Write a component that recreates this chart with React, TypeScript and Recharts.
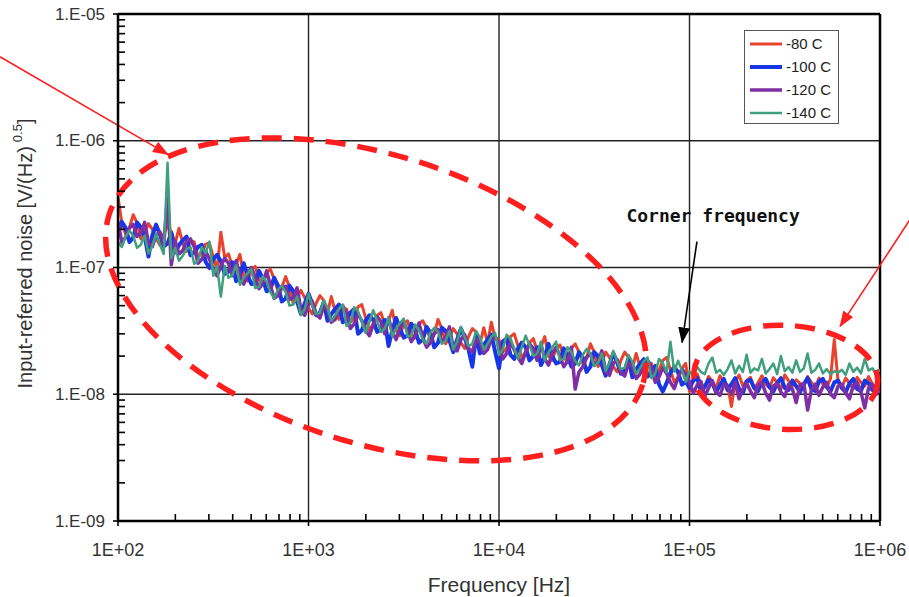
import React from "react";
import {
  LineChart,
  Line,
  XAxis,
  YAxis,
  ReferenceLine,
  ReferenceDot,
  Legend,
  Label,
} from "recharts";

// frequency grid [Hz], 50 points per decade
const freq = [
  100, 104.7, 109.6, 114.8, 120.2, 125.9, 131.8, 138, 144.5, 151.4, 158.5, 166, 173.8, 182, 190.5, 199.5, 208.9, 218.8, 229.1, 239.9,
  251.2, 263, 275.4, 288.4, 302, 316.2, 331.1, 346.7, 363.1, 380.2, 398.1, 416.9, 436.5, 457.1, 478.6, 501.2, 524.8, 549.5, 575.4, 602.6,
  631, 660.7, 691.8, 724.4, 758.6, 794.3, 831.8, 871, 912, 955,
  1000, 1047, 1096, 1148, 1202, 1259, 1318, 1380, 1445, 1514, 1585, 1660, 1738, 1820, 1905, 1995, 2089, 2188, 2291, 2399,
  2512, 2630, 2754, 2884, 3020, 3162, 3311, 3467, 3631, 3802, 3981, 4169, 4365, 4571, 4786, 5012, 5248, 5495, 5754, 6026,
  6310, 6607, 6918, 7244, 7586, 7943, 8318, 8710, 9120, 9550,
  10000, 10470, 10960, 11480, 12020, 12590, 13180, 13800, 14450, 15140, 15850, 16600, 17380, 18200, 19050, 19950, 20890, 21880, 22910, 23990,
  25120, 26300, 27540, 28840, 30200, 31620, 33110, 34670, 36310, 38020, 39810, 41690, 43650, 45710, 47860, 50120, 52480, 54950, 57540, 60260,
  63100, 66070, 69180, 72440, 75860, 79430, 83180, 87100, 91200, 95500,
  100000, 104700, 109600, 114800, 120200, 125900, 131800, 138000, 144500, 151400, 158500, 166000, 173800, 182000, 190500, 199500, 208900, 218800, 229100, 239900,
  251200, 263000, 275400, 288400, 302000, 316200, 331100, 346700, 363100, 380200, 398100, 416900, 436500, 457100, 478600, 501200, 524800, 549500, 575400, 602600,
  631000, 660700, 691800, 724400, 758600, 794300, 831800, 871000, 912000, 955000,
  1000000,
];

// noise values in nV/sqrt(Hz)
const minus80 = [
  360, 226, 184, 206, 261, 224, 168, 187, 222, 200,
  170, 150, 184, 212, 193, 154, 204, 155, 134, 163,
  159, 122, 129, 153, 156, 121, 96, 190, 120, 128,
  102, 106, 127, 85, 78, 96, 102, 80, 74, 91,
  97, 81, 65, 70, 85, 70, 52, 57, 66, 58,
  48, 43, 52, 60, 55, 44, 59, 45, 39, 48,
  47, 37, 40, 49, 51, 40, 32, 36, 42, 44,
  36, 38, 46, 32, 29, 36, 38, 30, 28, 36,
  38, 33, 27, 30, 39, 33, 25, 28, 33, 30,
  25.5, 23, 28.5, 33, 31, 25, 33.5, 25.5, 37, 27.5,
  27, 21.5, 23, 28.5, 30, 24, 19.5, 21.5, 25.5, 27.5,
  22, 23.5, 28.5, 20, 18.5, 23, 24.5, 19.5, 18, 23,
  25, 21.5, 17.5, 19.5, 25, 21.5, 16.5, 18, 21.5, 19.5,
  16.5, 15, 18.5, 21.5, 19.5, 16, 21, 16.5, 14.5, 18,
  17.5, 14, 15.5, 18.5, 19.5, 15.5, 12.5, 13.5, 16, 17.5,
  10.5, 13.5, 14.5, 12, 11.5, 13.8, 12.6, 11.2, 14, 12.5,
  11.8, 8, 12.5, 14.2, 11.6, 12.8, 13.6, 11, 12.4, 14,
  12, 11.2, 13.5, 12.4, 11, 14.2, 12.8, 11.6, 13, 12.2,
  11.5, 13.8, 12.4, 11.2, 13.4, 12, 11.4, 13.2, 27, 12.6,
  11.4, 13.4, 12.2, 11, 13.6, 12.4, 11.6, 13.8, 12, 11.2,
  12.5,
];

const minus100 = [
  186, 229, 206, 159, 172, 227, 208, 177, 122, 179,
  218, 182, 147, 155, 187, 132, 150, 164, 175, 125,
  132, 145, 151, 111, 99, 116, 126, 112, 89, 93,
  110, 78, 87, 108, 87, 74, 75, 94, 82, 65,
  68, 83, 72, 54, 57, 72, 65, 54, 43, 52,
  62, 52, 42, 44, 53, 38, 43, 47, 51, 37,
  39.5, 44, 47, 30, 32, 38, 42, 38.5, 31, 32.5,
  38.5, 24, 32, 40, 33, 28, 29, 36, 32, 25.5,
  27, 34, 30.5, 23.5, 25.5, 33.5, 31.5, 26.5, 21.5, 27,
  33, 28, 22.5, 16.5, 29.5, 21, 24.5, 27, 29.5, 21.5,
  16, 26, 27.5, 20.5, 19, 23, 25.5, 23.5, 18.5, 20,
  23.5, 17, 19.5, 25, 20, 17.5, 18, 23, 20, 16.5,
  17.5, 21.5, 19.5, 15, 16.5, 21.5, 20, 17, 14, 17.3,
  21, 18, 14.5, 15.5, 19, 13.6, 15.7, 17.4, 18.9, 13.8,
  14.8, 16.7, 12, 10.5, 12.3, 14.8, 16.5, 14.9, 11.9, 12.6,
  11.2, 12.8, 13.5, 10.6, 11.4, 13, 12.2, 10.4, 11.8, 13.2,
  10.8, 12, 13.4, 11, 10.2, 12.6, 13, 11.2, 10.6, 12.4,
  13.2, 11.4, 10.5, 12.2, 13.4, 11.2, 10.8, 12.8, 11.6, 10.4,
  12, 13.4, 11, 10.6, 12.6, 13.2, 11.4, 10.5, 12.4, 12.8,
  11.2, 10.4, 12.2, 13.2, 11, 10.6, 12.8, 12.2, 10.8, 11.6,
  11,
];

const minus120 = [
  230, 158, 173, 205, 219, 176, 186, 227, 157, 146,
  180, 191, 150, 360, 105, 162, 128, 136, 162, 168,
  146, 108, 116, 134, 117, 97, 86, 103, 118, 108,
  86, 113, 86, 74, 89, 100, 84, 68, 75, 94,
  72, 57, 60, 69, 71, 56, 58, 69, 47, 42,
  51, 54, 43, 40, 50, 46, 37, 39, 47, 50,
  43, 33, 36, 43, 38, 32, 29, 35.5, 41, 37.5,
  30, 40, 31, 27, 33.5, 37, 31.5, 26, 29, 36.5,
  28, 23.5, 25.5, 30, 32.5, 26, 28, 34, 23, 22,
  27, 29.5, 23, 21.5, 27.5, 25.5, 21, 22.5, 27.5, 28.5,
  25, 19, 21, 25.5, 22.5, 19.5, 17.5, 21.5, 25, 23,
  18.5, 25, 19, 17, 21, 23.5, 20, 16.5, 18.3, 23.5,
  11, 15, 16.5, 19.5, 21, 17, 18, 22, 15.1, 14.1,
  17.5, 18.8, 14.9, 13.9, 17.6, 16.6, 13.3, 14.4, 17.4, 18.5,
  16.3, 12.4, 13.7, 16.2, 14.6, 12.4, 11.1, 13.6, 15.8, 14.5,
  12.5, 10.2, 11.8, 12.6, 9.6, 11.2, 12.8, 10.4, 9.8, 12,
  11.4, 10, 12.4, 9.2, 11, 12.2, 10.6, 9.4, 11.8, 12.4,
  10.2, 9, 11.6, 12.2, 10.4, 9.6, 12, 11, 8.6, 11.8,
  12.2, 7.5, 10.8, 12, 9.8, 11.4, 12.4, 10, 9.4, 11.6,
  12, 10.2, 9.2, 11.8, 12.4, 10.4, 7.8, 11.2, 12, 10,
  10.8,
];

const minus140 = [
  158, 145, 175, 195, 178, 143, 151, 179, 129, 148,
  185, 152, 128, 670, 118, 143, 113, 124, 139, 145,
  107, 113, 145, 130, 160, 86, 103, 59, 103, 83,
  87, 104, 73, 83, 90, 97, 69, 70, 85, 77,
  64, 57, 67, 72, 64, 50, 51, 59, 42, 47,
  62, 50, 43, 44, 55, 48, 38, 42, 47, 51,
  34.5, 37, 48.5, 45, 37.5, 30.5, 37.5, 46, 38, 31,
  33, 40, 28.5, 33, 36.5, 39.5, 28.5, 29, 35.5, 32,
  27, 25, 30.5, 33.5, 31, 25, 26.5, 31.5, 22.5, 26,
  34, 28, 24, 25, 31.5, 28, 22.5, 25, 28.5, 30.5,
  20.5, 22.5, 29.5, 27.5, 23, 19, 23.5, 29, 24.5, 20,
  21, 26, 18.5, 21.5, 23.5, 26, 18.5, 19, 23.5, 21.5,
  18.3, 16.9, 20.5, 22.8, 20.8, 16.7, 17.7, 21, 15.3, 17.5,
  22, 18.2, 15.7, 16.2, 20.4, 18, 14.5, 16, 18.2, 19.5,
  13.4, 14.5, 19, 17.6, 14.9, 26, 15.1, 18.4, 15.5, 12.5,
  15.2, 14, 16.5, 15, 14.4, 17.5, 19.5, 14.8, 15.6, 14.2,
  15.8, 18.5, 14.6, 16.8, 15, 20.5, 14.8, 16, 15.4, 19,
  14.6, 15.8, 17.5, 14.4, 20, 15.2, 16.4, 14.8, 18.5, 15,
  16, 21, 14.8, 15.6, 17.5, 14.6, 15.8, 14.4, 15.2, 14.8,
  15.6, 14.2, 17.5, 15, 16.2, 14.6, 19, 15.4, 16, 14.6,
  15.6,
];

const xDecades = [1e2, 1e3, 1e4, 1e5, 1e6];
const yDecades = [1e-9, 1e-8, 1e-7, 1e-6, 1e-5];
const minorSteps = [2, 3, 4, 5, 6, 7, 8, 9];

const series = [
  { key: "m80", name: "-80 C", color: "#e8432d", width: 3, values: minus80 },
  { key: "m100", name: "-100 C", color: "#1737e6", width: 4, values: minus100 },
  { key: "m120", name: "-120 C", color: "#7f2fa4", width: 3.5, values: minus120 },
  { key: "m140", name: "-140 C", color: "#3f9f7f", width: 2.5, values: minus140 },
];

const data = freq.map((f, i) => {
  const row: Record<string, number> = { f };
  series.forEach((s) => {
    row[s.key] = s.values[i] * 1e-9;
  });
  return row;
});

const FONT = "'Liberation Sans', Arial, sans-serif";
const RED = "#ff1f1f";
const TICK_SIZE = 5;
const TICK_MARGIN = 2;

// Major labels plus the minor tick marks of the decade that follows,
// spaced with the axis' own size (one decade = axis length / number of decades).
const XTick = (props: any) => {
  const { x, y, payload, width, index } = props;
  const axisY = y - TICK_SIZE - TICK_MARGIN;
  const decadePx = width / (xDecades.length - 1);
  const exp = Math.round(Math.log10(payload.value));
  const last = index === xDecades.length - 1;
  return (
    <g>
      <line x1={x} x2={x} y1={axisY} y2={axisY + 5} stroke="#000" strokeWidth={1.6} />
      {!last &&
        minorSteps.map((m) => {
          const mx = x + decadePx * Math.log10(m);
          return <line key={m} x1={mx} x2={mx} y1={axisY} y2={axisY - 7} stroke="#000" strokeWidth={1.6} />;
        })}
      <text x={x} y={axisY + 35} textAnchor="middle" fontSize={18} fontFamily={FONT} fill="#333">
        {"1E+0" + exp}
      </text>
    </g>
  );
};

const YTick = (props: any) => {
  const { x, y, payload, height, index } = props;
  const axisX = x + TICK_SIZE + TICK_MARGIN;
  const decadePx = height / (yDecades.length - 1);
  const exp = Math.round(Math.log10(payload.value));
  const last = index === yDecades.length - 1;
  return (
    <g>
      <line x1={axisX - 5} x2={axisX} y1={y} y2={y} stroke="#000" strokeWidth={1.6} />
      {!last &&
        minorSteps.map((m) => {
          const my = y - decadePx * Math.log10(m);
          return <line key={m} x1={axisX} x2={axisX + 7} y1={my} y2={my} stroke="#000" strokeWidth={1.6} />;
        })}
      <text x={axisX - 13} y={y} textAnchor="end" dominantBaseline="central" fontSize={17} fontFamily={FONT} fill="#333">
        {"1.E-0" + -exp}
      </text>
    </g>
  );
};

const YTitle = (props: any) => {
  const { x, y, height } = props.viewBox;
  const cx = x + 25;
  const cy = y + height / 2 - 14;
  return (
    <text
      x={cx}
      y={cy}
      transform={`rotate(-90 ${cx} ${cy})`}
      textAnchor="middle"
      dominantBaseline="central"
      fontSize={20}
      fontFamily={FONT}
      fill="#333"
    >
      Input-referred noise [V/(Hz)
      <tspan dx={4} dy={-8} fontSize={13}>
        0.5
      </tspan>
      <tspan dy={8}>]</tspan>
    </text>
  );
};

const XTitle = (props: any) => {
  const { x, y, width } = props.viewBox;
  return (
    <text x={x + width / 2} y={y + 71} textAnchor="middle" fontSize={21} fontFamily={FONT} fill="#333">
      Frequency [Hz]
    </text>
  );
};

const LegendBox = () => (
  <div
    style={{
      border: "1px solid #555",
      background: "#fff",
      width: 93,
      height: 92,
      fontFamily: FONT,
      fontSize: 15,
      color: "#222",
    }}
  >
    {series.map((s, i) => (
      <div key={s.key} style={{ display: "flex", alignItems: "center", height: 23, marginTop: i === 0 ? 1 : 0 }}>
        <svg width={40} height={10} style={{ display: "block" }}>
          <line x1={5} x2={37} y1={5} y2={5} stroke={s.color} strokeWidth={s.width} />
        </svg>
        <span style={{ marginLeft: 1 }}>{s.name}</span>
      </div>
    ))}
  </div>
);

const ellipseShape = (rx: number, ry: number, rot: number) => (p: any) => (
  <ellipse
    cx={p.cx}
    cy={p.cy}
    rx={rx}
    ry={ry}
    transform={`rotate(${rot} ${p.cx} ${p.cy})`}
    fill="none"
    stroke={RED}
    strokeWidth={5.5}
    strokeDasharray="20 12"
  />
);

const arrowShape = (color: string, marker: string) => (p: any) => (
  <line x1={p.x1} y1={p.y1} x2={p.x2} y2={p.y2} stroke={color} strokeWidth={1.6} markerEnd={`url(#${marker})`} />
);

const cornerText = (p: any) => (
  <text
    x={p.cx}
    y={p.cy}
    textAnchor="middle"
    dominantBaseline="central"
    fontFamily="'DejaVu Sans Mono', monospace"
    fontWeight="bold"
    fontSize={18}
    fill="#111"
  >
    Corner frequency
  </text>
);

export default function App() {
  return (
    <div style={{ position: "absolute", left: 0, top: 0, width: 909, height: 597, background: "#fff" }}>
      <LineChart width={909} height={597} data={data} margin={{ top: 14, right: 29, bottom: 0, left: 0 }}>
        <defs>
          <marker id="arrowRed" viewBox="0 0 16 12" refX={15} refY={6} markerWidth={16} markerHeight={12} markerUnits="userSpaceOnUse" orient="auto">
            <path d="M0,0 L16,6 L0,12 z" fill={RED} />
          </marker>
          <marker id="arrowBlack" viewBox="0 0 16 12" refX={15} refY={6} markerWidth={16} markerHeight={12} markerUnits="userSpaceOnUse" orient="auto">
            <path d="M0,0 L16,6 L0,12 z" fill="#000" />
          </marker>
        </defs>

        <XAxis
          dataKey="f"
          type="number"
          scale="log"
          domain={[1e2, 1e6]}
          ticks={xDecades}
          interval={0}
          height={76}
          tickSize={TICK_SIZE}
          tickMargin={TICK_MARGIN}
          tickLine={false}
          tick={<XTick />}
          axisLine={{ stroke: "#000", strokeWidth: 2.5 }}
          allowDataOverflow
        >
          <Label content={<XTitle />} />
        </XAxis>
        <YAxis
          type="number"
          scale="log"
          domain={[1e-9, 1e-5]}
          ticks={yDecades}
          interval={0}
          width={118}
          tickSize={TICK_SIZE}
          tickMargin={TICK_MARGIN}
          tickLine={false}
          tick={<YTick />}
          axisLine={{ stroke: "#000", strokeWidth: 2.5 }}
          allowDataOverflow
        >
          <Label content={<YTitle />} />
        </YAxis>

        {xDecades.slice(1, -1).map((v) => (
          <ReferenceLine key={"gx" + v} x={v} stroke="#222" strokeWidth={1.4} />
        ))}
        {yDecades.slice(1, -1).map((v) => (
          <ReferenceLine key={"gy" + v} y={v} stroke="#222" strokeWidth={1.4} />
        ))}
        <ReferenceLine x={1e6} stroke="#000" strokeWidth={2.5} />
        <ReferenceLine y={1e-5} stroke="#000" strokeWidth={2.5} />

        {series.map((s) => (
          <Line
            key={s.key}
            dataKey={s.key}
            name={s.name}
            type="linear"
            stroke={s.color}
            strokeWidth={s.width}
            strokeLinejoin="round"
            dot={false}
            isAnimationActive={false}
          />
        ))}

        <ReferenceDot x={2260} y={5.6e-8} r={1} ifOverflow="visible" shape={ellipseShape(280, 144, 17.7)} />
        <ReferenceDot x={3.2e5} y={1.36e-8} r={1} ifOverflow="visible" shape={ellipseShape(92, 52, 3)} />
        <ReferenceDot x={1.33e5} y={2.56e-7} r={1} ifOverflow="visible" shape={cornerText} />

        <ReferenceLine
          segment={[{ x: 24, y: 4.6e-6 }, { x: 183, y: 7.8e-7 }]}
          ifOverflow="visible"
          shape={arrowShape(RED, "arrowRed")}
        />
        <ReferenceLine
          segment={[{ x: 1.53e6, y: 2.76e-7 }, { x: 6.17e5, y: 3.43e-8 }]}
          ifOverflow="visible"
          shape={arrowShape(RED, "arrowRed")}
        />
        <ReferenceLine
          segment={[{ x: 1.094e5, y: 1.6e-7 }, { x: 9.14e4, y: 2.56e-8 }]}
          ifOverflow="visible"
          shape={arrowShape("#000", "arrowBlack")}
        />

        <Legend
          layout="vertical"
          align="center"
          verticalAlign="middle"
          content={<LegendBox />}
          wrapperStyle={{ left: 744, top: 30, width: 95, height: 94 }}
        />
      </LineChart>
    </div>
  );
}
